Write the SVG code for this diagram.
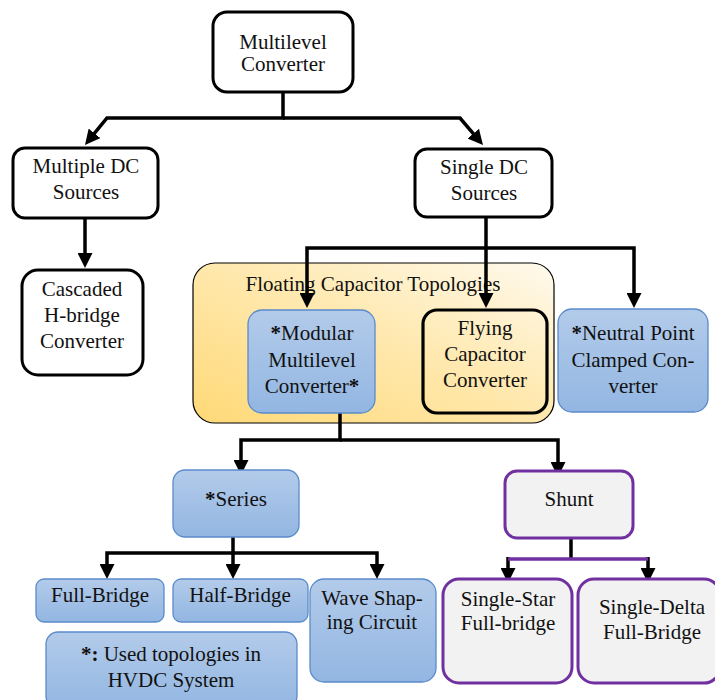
<svg xmlns="http://www.w3.org/2000/svg" width="715" height="700" viewBox="0 0 715 700" font-family="'Liberation Serif', 'Times New Roman', 'DejaVu Serif', serif">
<style>
text{font-family:'Liberation Serif','Times New Roman','DejaVu Serif',serif;font-size:21px;fill:#111;text-anchor:middle}
.b{font-weight:bold}
.bk{fill:#fff;stroke:#000;stroke-width:3}
.bl{fill:url(#gBlue);stroke:#5b8bc9;stroke-width:1.3}
.pu{fill:#f2f2f2;stroke:#7030a0;stroke-width:3}
.ln{fill:none;stroke:#000;stroke-width:3.5;stroke-linejoin:miter}
</style>
<defs>
<linearGradient id="gBlue" x1="0" y1="0" x2="0" y2="1">
<stop offset="0" stop-color="#b3cbea"/>
<stop offset="1" stop-color="#92b6e2"/>
</linearGradient>
<linearGradient id="gYel" x1="0" y1="1" x2="1" y2="0">
<stop offset="0" stop-color="#ffd977"/>
<stop offset="0.55" stop-color="#ffe9b0"/>
<stop offset="1" stop-color="#fffaee"/>
</linearGradient>
<marker id="ah" markerUnits="userSpaceOnUse" viewBox="0 0 15 15" markerWidth="15" markerHeight="15" refX="5" refY="7.5" orient="auto">
<path d="M0,0 L15,7.5 L0,15 Z" fill="#000"/>
</marker>
</defs>

<g id="floating-region">
<rect x="193" y="263" width="361" height="160" rx="22" fill="url(#gYel)" stroke="#000" stroke-width="1.2"/>
<text x="373" y="291">Floating Capacitor Topologies</text>
</g>

<g id="connectors">
<path class="ln" d="M283,92 V118 H107 L91.3,137.2" marker-end="url(#ah)"/>
<path class="ln" d="M283,118 H460 L476.5,137.4" marker-end="url(#ah)"/>
<path class="ln" d="M85,218 V258" marker-end="url(#ah)"/>
<path class="ln" d="M486,217 V298" marker-end="url(#ah)"/>
<path class="ln" d="M486,248 H307 V298" marker-end="url(#ah)"/>
<path class="ln" d="M486,248 H634 V298" marker-end="url(#ah)"/>
<path class="ln" d="M340,413 V440 H241 V465" marker-end="url(#ah)"/>
<path class="ln" d="M340,440 H558 V467" marker-end="url(#ah)"/>
<path class="ln" d="M233,537 V553 H107 V569" marker-end="url(#ah)"/>
<path class="ln" d="M233,553 V569" marker-end="url(#ah)"/>
<path class="ln" d="M233,553 H377 V569" marker-end="url(#ah)"/>
<path class="ln" d="M571,538 V559"/>
<path class="ln" d="M508,557 V573" marker-end="url(#ah)"/>
<path class="ln" d="M648,557 V573" marker-end="url(#ah)"/>
<path d="M508,559 H648" fill="none" stroke="#7030a0" stroke-width="3.5"/>
</g>

<g id="multilevel-converter">
<rect class="bk" x="213" y="12" width="140" height="80" rx="14"/>
<text x="283" y="49">Multilevel</text>
<text x="283" y="71">Converter</text>
</g>

<g id="multiple-dc">
<rect class="bk" x="13" y="148" width="145" height="70" rx="12"/>
<text x="86" y="173">Multiple DC</text>
<text x="86" y="199">Sources</text>
</g>

<g id="single-dc">
<rect class="bk" x="415" y="149" width="137" height="68" rx="12"/>
<text x="484" y="174">Single DC</text>
<text x="484" y="200">Sources</text>
</g>

<g id="cascaded">
<rect class="bk" x="22" y="270" width="121" height="105" rx="16"/>
<text x="82" y="296">Cascaded</text>
<text x="82" y="322">H-bridge</text>
<text x="82" y="348">Converter</text>
</g>

<g id="mmc">
<rect class="bl" x="248" y="310" width="127" height="103" rx="14"/>
<text x="312" y="340"><tspan class="b">*</tspan>Modular</text>
<text x="312" y="367">Multilevel</text>
<text x="312" y="393">Converter<tspan class="b">*</tspan></text>
</g>

<g id="flying-capacitor">
<rect x="423" y="310" width="124" height="103" rx="14" fill="none" stroke="#000" stroke-width="3.2"/>
<text x="485" y="335">Flying</text>
<text x="485" y="361">Capacitor</text>
<text x="485" y="387">Converter</text>
</g>

<g id="npc">
<rect class="bl" x="558" y="309" width="150" height="103" rx="14"/>
<text x="633" y="340"><tspan class="b">*</tspan>Neutral Point</text>
<text x="633" y="367">Clamped Con-</text>
<text x="633" y="393">verter</text>
</g>

<g id="series">
<rect class="bl" x="173" y="470" width="126" height="67" rx="12"/>
<text x="236" y="506"><tspan class="b">*</tspan>Series</text>
</g>

<g id="shunt">
<rect class="pu" x="505" y="471" width="128" height="67" rx="12"/>
<text x="569" y="506">Shunt</text>
</g>

<g id="full-bridge">
<rect class="bl" x="36" y="579" width="128" height="43" rx="8"/>
<text x="100" y="602">Full-Bridge</text>
</g>

<g id="half-bridge">
<rect class="bl" x="173" y="579" width="135" height="43" rx="8"/>
<text x="240" y="602">Half-Bridge</text>
</g>

<g id="wave-shaping">
<rect class="bl" x="310" y="579" width="126" height="103" rx="14"/>
<text x="372" y="605">Wave Shap-</text>
<text x="372" y="629">ing Circuit</text>
</g>

<g id="legend">
<rect class="bl" x="46" y="632" width="251" height="76" rx="12"/>
<text x="171" y="661"><tspan class="b">*:</tspan> Used topologies in</text>
<text x="171" y="687">HVDC System</text>
</g>

<g id="single-star">
<rect class="pu" x="443" y="579" width="129" height="104" rx="16"/>
<text x="508" y="606">Single-Star</text>
<text x="508" y="630">Full-bridge</text>
</g>

<g id="single-delta">
<rect class="pu" x="578" y="579" width="142" height="104" rx="16"/>
<text x="652" y="614">Single-Delta</text>
<text x="652" y="639">Full-Bridge</text>
</g>
</svg>
